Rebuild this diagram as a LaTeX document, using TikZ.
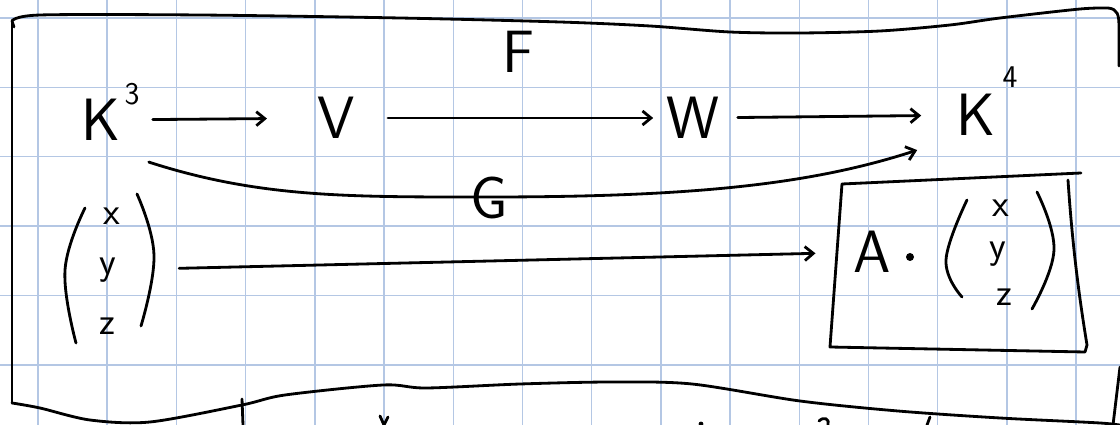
\documentclass[tikz,border=0pt]{standalone}
\usetikzlibrary{arrows.meta}
\definecolor{gridblue}{RGB}{180,199,228}
\tikzset{
  gridline/.style={
    draw=gridblue,
    line width=0.8pt
  },
  inkline/.style={
    draw=black,
    line width=1.6pt,
    line cap=round,
    line join=round
  },
  inkarrow/.style={
    inkline,
    -{Straight Barb[length=1.7mm,width=2.8mm]}
  },
  bigletter/.style={
    font=\sffamily\fontsize{34}{38}\selectfont,
    inner sep=0pt
  },
  expletter/.style={
    font=\sffamily\fontsize{18}{20}\selectfont,
    inner sep=0pt
  },
  vecletter/.style={
    font=\sffamily\fontsize{22}{24}\selectfont,
    inner sep=0pt
  }
}

\begin{document}
\begin{tikzpicture}[x=0.02cm,y=-0.02cm]

  % Sheet of squared paper; one unit is one pixel of the page.
  \useasboundingbox (0,0) rectangle (1120,425);
  \fill[white] (0,0) rectangle (1120,425);
  \foreach \i in {0,...,15}
    \draw[gridline] ({38+69.2*\i},0) -- ({38+69.2*\i},425);
  \foreach \j in {0,...,5}
    \draw[gridline] (0,{18+69.4*\j}) -- (1120,{18+69.4*\j});

  % Outer hand-drawn frame.
  \draw[inkline] (14,27) -- (12,21)
    plot[smooth,tension=0.5] coordinates {(12,21) (40,15) (200,15) (400,18)
      (560,22) (650,26) (730,32) (800,33) (880,31) (950,25) (1000,18)
      (1080,9) (1108,8)}
    .. controls (1118,9) and (1119,15) .. (1119,28) -- (1119,66);
  \draw[inkline] (12,21) -- (12,403);
  \draw[inkline] plot[smooth,tension=0.5] coordinates {(12,403) (40,408)
    (90,420) (150,422) (242,405) (285,395) (383,385) (426,388) (520,384)
    (611,382) (692,384) (800,401) (898,411) (1000,418) (1100,423) (1125,426)};
  \draw[inkline] (1120,367) -- (1113,425);

  % Top row of spaces.
  \node[bigletter] (kthree) at (101,120) {K};
  \node[expletter] (kthreeexp) at (132,94) {3};
  \node[bigletter] (vsp) at (336,118) {V};
  \node[bigletter] (wsp) at (693,118) {W};
  \node[bigletter] (kfour) at (976,115) {K};
  \node[expletter] (kfourexp) at (1010,77) {4};
  \node[bigletter] (fmap) at (518,52) {F};
  \node[bigletter] (gmap) at (489,198) {G};

  \draw[inkarrow,shorten <=0.64cm,shorten >=1.0cm] (kthree) -- (vsp);
  \draw[inkarrow,shorten <=0.66cm,shorten >=0.26cm] (vsp) -- (wsp);
  \draw[inkarrow,shorten <=0.36cm,shorten >=0.7cm] (wsp) -- (kfour);
  \draw[inkarrow] ([shift={(28,21)}]kthree.south east)
    .. controls (260,198) and (350,197) .. (489,197)
    .. controls (690,197) and (810,185) .. ([shift={(-39,14)}]kfour.south west);

  % Column vector on the left.
  \node[vecletter] (lx) at (112,216) {x};
  \node[vecletter] (ly) at (108,270) {y};
  \node[vecletter] (lz) at (107,326) {z};
  \draw[inkline] plot[smooth,tension=0.7] coordinates {(85,208) (65,270) (76,343)};
  \draw[inkline] plot[smooth,tension=0.7] coordinates {(137,194) (154,255) (141,326)};

  % Product with the matrix A, in its own box.
  \node[bigletter] (amat) at (872,252) {A};
  \node[vecletter] (rx) at (1001,208) {x};
  \node[vecletter] (ry) at (998,254) {y};
  \node[vecletter] (rz) at (1004,297) {z};
  \fill[black] (910,257) circle[radius=4];
  \draw[inkline] plot[smooth,tension=0.7] coordinates {(967,200) (946,260) (962,297)};
  \draw[inkline] plot[smooth,tension=0.7] coordinates {(1037,192) (1054,250) (1032,309)};
  \draw[inkline] (842,184) -- (1081,173);
  \draw[inkline] (842,184) -- (830,347) -- (1085,352) -- (1087,345)
    .. controls (1078,290) and (1072,240) .. (1068,180);

  \draw[inkarrow,shorten <=1.25cm,shorten >=0.75cm] (ly) -- (amat);

  % Strokes of the next line of writing, cut off by the page edge.
  \draw[inkline] (242,399) -- (243,425);
  \draw[inkline] (380,416) -- (384,425) -- (388,417);
  \fill[black] (701,424) circle[radius=2.4];
  \draw[inkline] (819,421) .. controls (824,416) and (830,419) .. (828,425);
  \draw[inkline] (930,417) -- (927,425);

\end{tikzpicture}
\end{document}
